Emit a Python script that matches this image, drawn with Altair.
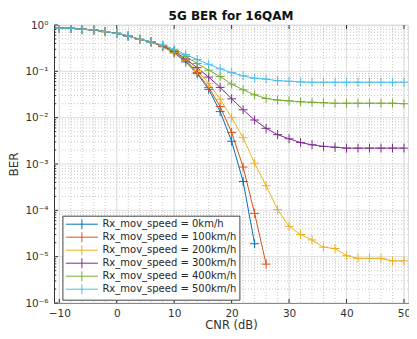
import altair as alt
import pandas as pd

cnr = list(range(-10, 52, 2))

series_names = [
    "Rx_mov_speed = 0km/h",
    "Rx_mov_speed = 100km/h",
    "Rx_mov_speed = 200km/h",
    "Rx_mov_speed = 300km/h",
    "Rx_mov_speed = 400km/h",
    "Rx_mov_speed = 500km/h",
]
colors = ["#0072BD", "#D95319", "#EDB120", "#7E2F8E", "#77AC30", "#4DBEEE"]

ber_0 = [0.85, 0.85, 0.81, 0.78, 0.72, 0.66, 0.58, 0.49, 0.43, 0.34, 0.25, 0.16,
         0.089, 0.041, 0.0135, 0.0031, 4.2e-4, 1.9e-5]
ber_100 = [0.85, 0.85, 0.81, 0.78, 0.72, 0.66, 0.58, 0.49, 0.43, 0.345, 0.255, 0.168,
           0.094, 0.045, 0.0174, 0.0048, 8.6e-4, 8.6e-5, 6.9e-6]
ber_200 = [0.85, 0.85, 0.81, 0.78, 0.72, 0.66, 0.58, 0.49, 0.43, 0.35, 0.26, 0.176,
           0.104, 0.055, 0.025, 0.010, 0.0037, 1.04e-3, 3.4e-4, 1.04e-4, 4.5e-5, 3.0e-5,
           2.3e-5, 1.6e-5, 1.5e-5, 1.05e-5, 9.2e-6, 9.2e-6, 9.2e-6, 8.1e-6, 8.1e-6]
ber_300 = [0.85, 0.85, 0.81, 0.78, 0.72, 0.66, 0.58, 0.49, 0.43, 0.355, 0.27, 0.185,
           0.12, 0.075, 0.045, 0.0255, 0.0148, 0.0089, 0.0059, 0.0043, 0.0035, 0.0029,
           0.0026, 0.0024, 0.0023, 0.0022, 0.0022, 0.0022, 0.0022, 0.0022, 0.0022]
ber_400 = [0.85, 0.85, 0.81, 0.78, 0.72, 0.66, 0.58, 0.49, 0.43, 0.36, 0.28, 0.21,
           0.148, 0.106, 0.077, 0.053, 0.040, 0.031, 0.026, 0.024, 0.023, 0.022,
           0.0215, 0.021, 0.0205, 0.0205, 0.0205, 0.0205, 0.0205, 0.0205, 0.020]
ber_500 = [0.85, 0.85, 0.81, 0.78, 0.72, 0.66, 0.58, 0.49, 0.43, 0.37, 0.30, 0.23,
           0.18, 0.142, 0.113, 0.094, 0.080, 0.071, 0.068, 0.063, 0.061, 0.059,
           0.058, 0.058, 0.058, 0.058, 0.058, 0.058, 0.058, 0.058, 0.058]

x_ticks = [-10, 0, 10, 20, 30, 40, 50]
y_ticks = [1e-6, 1e-5, 1e-4, 1e-3, 1e-2, 1e-1, 1.0]
x_minor = list(range(-10, 51, 2))
y_minor = [m * 10.0 ** e for e in range(-6, 0) for m in range(2, 10)]

rows = []
for name, vals in zip(series_names, [ber_0, ber_100, ber_200, ber_300, ber_400, ber_500]):
    for x, v in zip(cnr, vals):
        rows.append({"series": name, "cnr": x, "ber": v})
df = pd.DataFrame(rows)

W, H = 354, 278
FONT = "DejaVu Sans"
PLUS = "M-1,0L1,0M0,-1L0,1"
LEG_PATH = "M-1,0L5.4,0M2.2,-1L2.2,1"

xscale = alt.Scale(domain=[-10.92, 50.7], nice=False, zero=False)
yscale = alt.Scale(type="log", domain=[1e-6, 1], nice=False)
cscale = alt.Scale(domain=series_names, range=colors)

legend = alt.Legend(
    title=None, orient="none", legendX=8.4, legendY=190.7,
    symbolType=LEG_PATH, symbolSize=100, symbolStrokeWidth=1,
    symbolFillColor="transparent",
    labelFont=FONT, labelFontSize=10, labelColor="#262626", labelLimit=400,
    labelOffset=26, strokeColor="#444", fillColor="white", padding=3,
    rowPadding=-2.2, cornerRadius=0,
)

x_enc = alt.X("cnr:Q", scale=xscale, axis=alt.Axis(
    values=x_ticks, grid=False, ticks=False, domainColor="#333",
    labelFont=FONT, labelFontSize=10.5, labelColor="#333", labelPadding=5,
    title="CNR (dB)", titleFont=FONT, titleFontSize=11.5, titleFontWeight="normal",
    titleColor="#333", titlePadding=1,
))
y_enc = alt.Y("ber:Q", scale=yscale, axis=alt.Axis(
    values=y_ticks, grid=False, ticks=False, domainColor="#333",
    labelFont=FONT, labelFontSize=10.5, labelColor="#333", labelPadding=6,
    labelExpr=("datum.value >= 0.5 ? '10⁰' : datum.value >= 0.05 ? '10⁻¹' : "
               "datum.value >= 0.005 ? '10⁻²' : datum.value >= 0.0005 ? '10⁻³' : "
               "datum.value >= 0.00005 ? '10⁻⁴' : datum.value >= 0.000005 ? '10⁻⁵' : '10⁻⁶'"),
    title="BER", titleFont=FONT, titleFontSize=12, titleFontWeight="normal",
    titleColor="#333", titlePadding=4,
))

xminor_layer = alt.Chart(pd.DataFrame({"v": x_minor})).mark_rule(
    color="#c8c8c8", strokeWidth=1, strokeDash=[1, 2]
).encode(x=alt.X("v:Q", scale=xscale))
yminor_layer = alt.Chart(pd.DataFrame({"v": y_minor})).mark_rule(
    color="#c8c8c8", strokeWidth=1, strokeDash=[1, 2]
).encode(y=alt.Y("v:Q", scale=yscale))
xmajor_layer = alt.Chart(pd.DataFrame({"v": x_ticks})).mark_rule(
    color="#dedede", strokeWidth=1
).encode(x=alt.X("v:Q", scale=xscale))
ymajor_layer = alt.Chart(pd.DataFrame({"v": y_ticks})).mark_rule(
    color="#dedede", strokeWidth=1
).encode(y=alt.Y("v:Q", scale=yscale))

# inward tick marks (MATLAB style)
xt_df = pd.DataFrame({"v": x_ticks})
yt_df = pd.DataFrame({"v": y_ticks})
ym_df = pd.DataFrame({"v": y_minor})
xtick_bottom = alt.Chart(xt_df).mark_rule(color="#333", strokeWidth=1).encode(
    x=alt.X("v:Q", scale=xscale), y=alt.value(H), y2=alt.value(H - 4))
xtick_top = alt.Chart(xt_df).mark_rule(color="#333", strokeWidth=1).encode(
    x=alt.X("v:Q", scale=xscale), y=alt.value(0), y2=alt.value(4))
ytick_left = alt.Chart(yt_df).mark_rule(color="#333", strokeWidth=1).encode(
    y=alt.Y("v:Q", scale=yscale), x=alt.value(0), x2=alt.value(4))
ytick_left_minor = alt.Chart(ym_df).mark_rule(color="#333", strokeWidth=1).encode(
    y=alt.Y("v:Q", scale=yscale), x=alt.value(0), x2=alt.value(2))

lines = alt.Chart(df).mark_line(strokeWidth=1, clip=True).encode(
    x=x_enc, y=y_enc,
    color=alt.Color("series:N", scale=cscale, sort=series_names, legend=legend),
)
points = alt.Chart(df).mark_point(
    shape=PLUS, filled=False, size=80, strokeWidth=1, opacity=1, clip=True
).encode(
    x=x_enc, y=y_enc,
    color=alt.Color("series:N", scale=cscale, sort=series_names, legend=legend),
)

chart = alt.layer(
    xminor_layer, yminor_layer, xmajor_layer, ymajor_layer,
    xtick_bottom, xtick_top, ytick_left, ytick_left_minor,
    lines, points
).properties(
    width=W, height=H,
    title=alt.TitleParams("5G BER for 16QAM", font=FONT, fontSize=12, fontWeight="bold",
                          color="#111", offset=-3),
    autosize=alt.AutoSizeParams(type="none"),
    padding={"left": 46, "top": 17, "right": 1, "bottom": 28},
).configure_view(stroke="#888", strokeWidth=1).configure(background="white")

chart.save("out.html", embed_options={"renderer": "svg", "actions": False})
